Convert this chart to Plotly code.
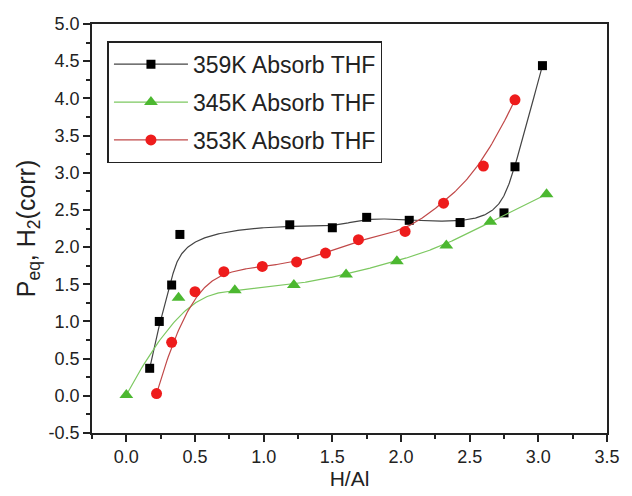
import numpy as np
import plotly.graph_objects as go

# Data
x_359 = [0.17, 0.24, 0.33, 0.39, 1.19, 1.50, 1.75, 2.06, 2.43, 2.75, 2.83, 3.03]
y_359 = [0.37, 1.00, 1.49, 2.17, 2.30, 2.26, 2.40, 2.36, 2.33, 2.46, 3.08, 4.44]

x_345 = [0.00, 0.38, 0.79, 1.22, 1.60, 1.97, 2.33, 2.65, 3.06]
y_345 = [0.01, 1.32, 1.42, 1.49, 1.63, 1.81, 2.02, 2.34, 2.71]

x_353 = [0.22, 0.33, 0.50, 0.71, 0.99, 1.24, 1.45, 1.69, 2.03, 2.31, 2.60, 2.83]
y_353 = [0.03, 0.72, 1.40, 1.67, 1.74, 1.80, 1.92, 2.10, 2.21, 2.59, 3.09, 3.98]

y_tick_vals = [-0.5, 0.0, 0.5, 1.0, 1.5, 2.0, 2.5, 3.0, 3.5, 4.0, 4.5, 5.0]
y_tick_text = ["-0.5", "0.0", "0.5", "1.0", "1.5", "2.0", "2.5", "3.0", "3.5", "4.0", "4.5", "5.0"]
x_tick_vals = [0.0, 0.5, 1.0, 1.5, 2.0, 2.5, 3.0, 3.5]
x_tick_text = ["0.0", "0.5", "1.0", "1.5", "2.0", "2.5", "3.0", "3.5"]

names = ["359K Absorb THF", "345K Absorb THF", "353K Absorb THF"]
marker_colors = ["#000000", "#4cb830", "#ee1c1c"]
line_colors = ["#444444", "#7cc860", "#c04848"]
symbols = ["square", "triangle-up", "circle"]
marker_sizes = [9, 12, 11]


def bspline(xs, ys, n=400, k=3):
    """Clamped uniform B-spline using data points as control points (Origin-style)."""
    P = np.column_stack([xs, ys]).astype(float)
    m = len(P)
    k = min(k, m - 1)
    inner = np.linspace(0, 1, m - k + 1)
    knots = np.concatenate([np.zeros(k), inner, np.ones(k)])
    t = np.linspace(0, 1, n)
    t[-1] = 1 - 1e-12
    N = np.zeros((n, len(knots) - 1))
    for i in range(len(knots) - 1):
        N[:, i] = ((t >= knots[i]) & (t < knots[i + 1])).astype(float)
    for d in range(1, k + 1):
        Nn = np.zeros((n, len(knots) - 1 - d))
        for i in range(len(knots) - 1 - d):
            a = knots[i + d] - knots[i]
            b = knots[i + d + 1] - knots[i + 1]
            term = np.zeros(n)
            if a > 0:
                term += (t - knots[i]) / a * N[:, i]
            if b > 0:
                term += (knots[i + d + 1] - t) / b * N[:, i + 1]
            Nn[:, i] = term
        N = Nn
    C = N @ P
    return C[:, 0], C[:, 1]


fig = go.Figure()
series = [(x_359, y_359), (x_345, y_345), (x_353, y_353)]
for idx, ((xs, ys), name, mc, lc, sym, ms) in enumerate(
        zip(series, names, marker_colors, line_colors, symbols, marker_sizes)):
    cx, cy = bspline(xs, ys)
    fig.add_trace(go.Scatter(x=cx, y=cy, mode="lines", line=dict(color=lc, width=1.2),
                             showlegend=False, hoverinfo="skip"))
    fig.add_trace(go.Scatter(x=xs, y=ys, mode="markers",
                             marker=dict(symbol=sym, size=ms, color=mc, line=dict(width=0)),
                             showlegend=False))
    fig.add_trace(go.Scatter(x=[None], y=[None], mode="lines+markers", name=name,
                             legendgroup=f"g{idx}",
                             line=dict(color=lc, width=1.2),
                             marker=dict(symbol=sym, size=ms, color=mc, line=dict(width=0))))

font_family = "Liberation Sans, Arial, sans-serif"
axis_common = dict(
    showgrid=False, zeroline=False, showline=True, linecolor="#222", linewidth=1.5,
    mirror=True, ticks="outside", ticklen=7, tickwidth=1.5, tickcolor="#222",
    tickfont=dict(family=font_family, size=18, color="#222"),
    minor=dict(ticks="outside", ticklen=4, tickwidth=1.5, tickcolor="#222", dtick=0.25),
)

fig.update_xaxes(range=[-0.25, 3.5], tickmode="array", tickvals=x_tick_vals, ticktext=x_tick_text,
                 title=dict(text="H/Al", font=dict(family=font_family, size=21, color="#222"), standoff=2),
                 **axis_common)
fig.update_yaxes(range=[-0.5, 5.0], tickmode="array", tickvals=y_tick_vals, ticktext=y_tick_text,
                 title=dict(text="P<sub>eq</sub>, H<sub>2</sub>(corr)",
                            font=dict(family=font_family, size=25, color="#222"), standoff=6),
                 **axis_common)

fig.update_layout(
    width=632, height=496,
    margin=dict(l=92, r=15, t=24, b=58),
    paper_bgcolor="white", plot_bgcolor="white",
    legend=dict(x=0.03, y=0.958, xanchor="left", yanchor="top",
                bgcolor="white", bordercolor="#222", borderwidth=1.5,
                font=dict(family=font_family, size=23, color="#222"),
                itemwidth=74, tracegroupgap=5),
)

fig.write_html("out.html")
